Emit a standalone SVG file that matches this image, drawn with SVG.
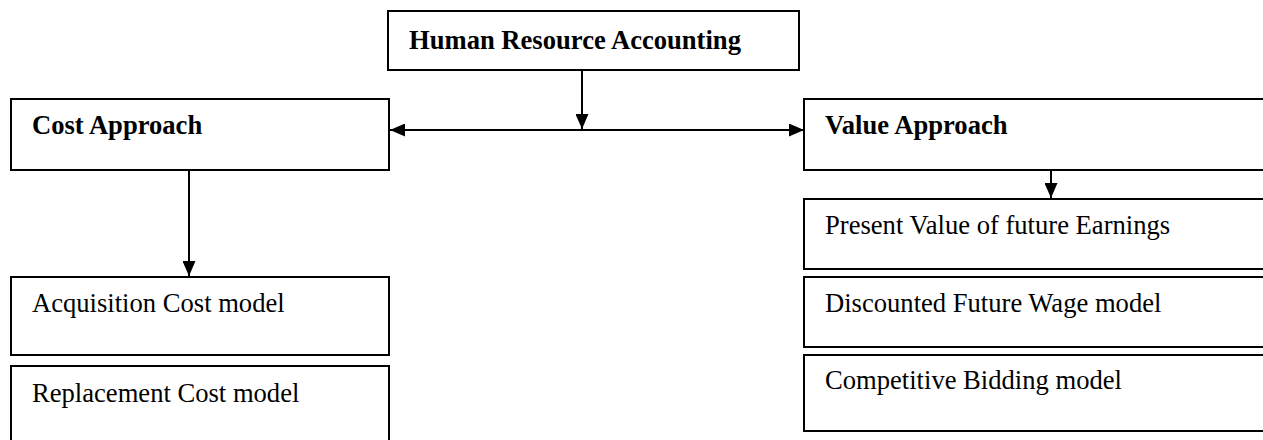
<svg xmlns="http://www.w3.org/2000/svg" width="1263" height="440" viewBox="0 0 1263 440">
<style>
.box{fill:#fff;stroke:#000;stroke-width:2}
.t{font-family:"Liberation Serif","Times New Roman",serif;font-size:26.6px;fill:#000}
.b{font-weight:bold}
.c{stroke:#000;stroke-width:2;fill:none}
</style>
<defs>
<marker id="ah" viewBox="0 0 15 13" refX="15" refY="6.5" markerWidth="15" markerHeight="13" markerUnits="userSpaceOnUse" orient="auto-start-reverse">
<path d="M0,0 L15,6.5 L0,13 Z" fill="#000"/>
</marker>
</defs>
<rect width="1263" height="440" fill="#fff"/>
<g id="hra"><rect class="box" x="388" y="11" width="411" height="59"/><text class="t b" x="409" y="49">Human Resource Accounting</text></g>
<g id="cost"><rect class="box" x="11" y="99" width="378" height="71"/><text class="t b" x="32" y="134">Cost Approach</text></g>
<g id="value"><rect class="box" x="804" y="99" width="470" height="71"/><text class="t b" x="825" y="134">Value Approach</text></g>
<g id="acq"><rect class="box" x="11" y="277" width="378" height="78"/><text class="t" x="32" y="312">Acquisition Cost model</text></g>
<g id="rep"><rect class="box" x="11" y="366" width="378" height="90"/><text class="t" x="32" y="402">Replacement Cost model</text></g>
<g id="pv"><rect class="box" x="804" y="199" width="470" height="70"/><text class="t" x="825" y="234">Present Value of future Earnings</text></g>
<g id="dfw"><rect class="box" x="804" y="277" width="470" height="70"/><text class="t" x="825" y="312">Discounted Future Wage model</text></g>
<g id="cb"><rect class="box" x="804" y="355" width="470" height="76"/><text class="t" x="825" y="389">Competitive Bidding model</text></g>
<g id="connectors">
<line class="c" x1="582" y1="70" x2="582" y2="129" marker-end="url(#ah)"/>
<line class="c" x1="390" y1="130" x2="804" y2="130" marker-start="url(#ah)" marker-end="url(#ah)"/>
<line class="c" x1="189" y1="170" x2="189" y2="276" marker-end="url(#ah)"/>
<line class="c" x1="1051" y1="170" x2="1051" y2="198" marker-end="url(#ah)"/>
</g>
</svg>
